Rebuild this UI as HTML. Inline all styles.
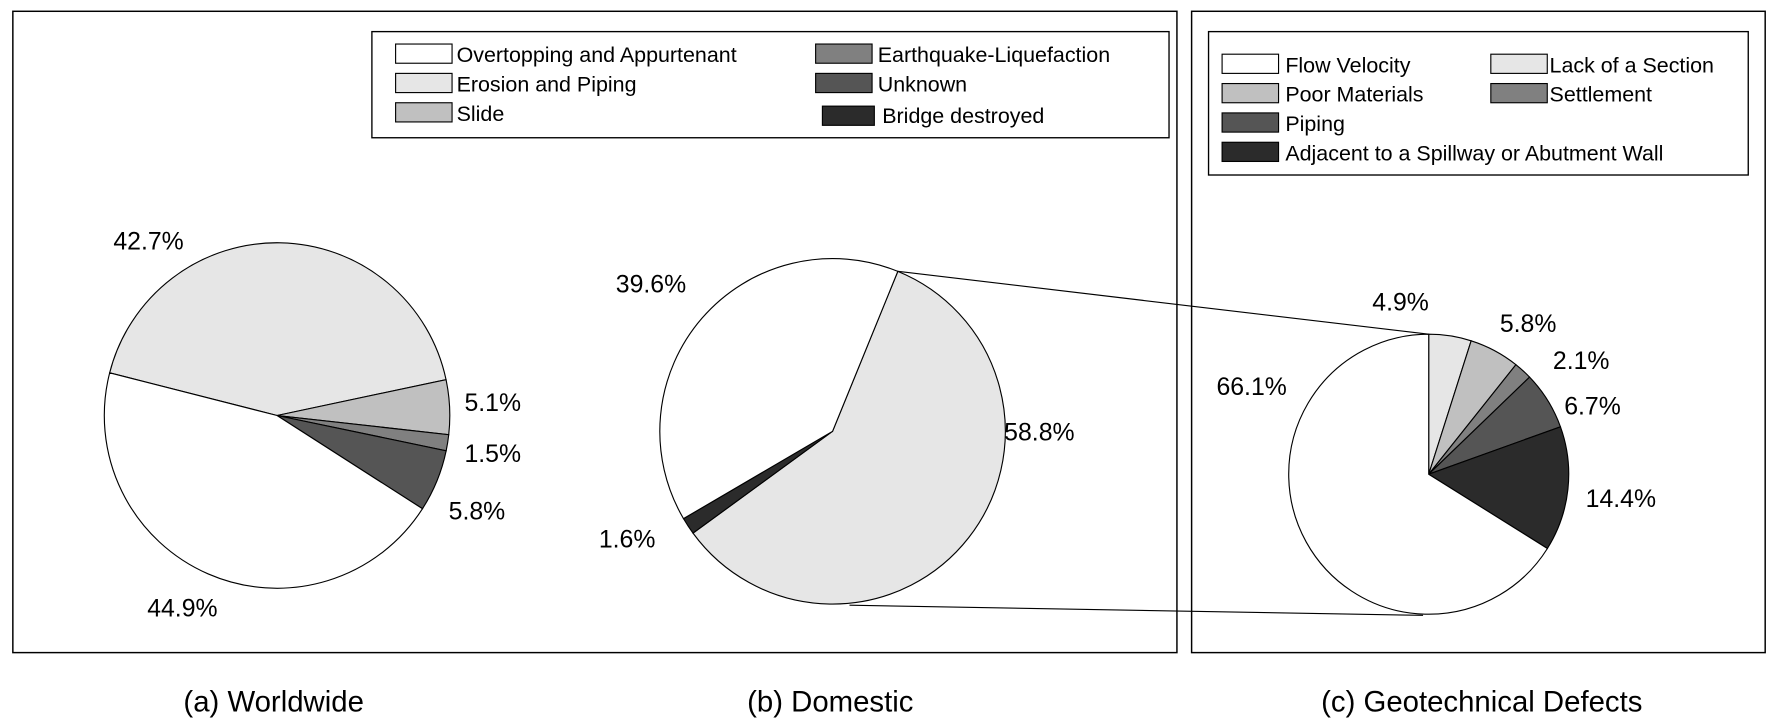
<!DOCTYPE html>
<html><head><meta charset="utf-8"><style>
html,body{margin:0;padding:0;background:#fff;}
svg{display:block;font-family:"Liberation Sans",sans-serif;}
</style></head><body>
<svg id="chart" width="1769" height="726" viewBox="0 0 1566 643">
<rect x="11" y="10" width="1031" height="568" fill="none" stroke="#000" stroke-width="1.3"/>
<rect x="1055" y="10" width="508" height="568" fill="none" stroke="#000" stroke-width="1.3"/>
<g>
<rect x="329" y="28" width="706" height="94" fill="#fff" stroke="#000" stroke-width="1.2"/>
<rect x="350" y="39" width="50" height="17" fill="#fff" stroke="#000"/><text x="404" y="55" font-size="19">Overtopping and Appurtenant</text>
<rect x="350" y="65" width="50" height="17" fill="#e6e6e6" stroke="#000"/><text x="404" y="81" font-size="19">Erosion and Piping</text>
<rect x="350" y="91" width="50" height="17" fill="#c0c0c0" stroke="#000"/><text x="404" y="107" font-size="19">Slide</text>
<rect x="722" y="39" width="50" height="17" fill="#808080" stroke="#000"/><text x="777" y="55" font-size="19">Earthquake-Liquefaction</text>
<rect x="722" y="65" width="50" height="17" fill="#555" stroke="#000"/><text x="777" y="81" font-size="19">Unknown</text>
<rect x="728" y="94" width="46" height="17" fill="#2b2b2b" stroke="#000"/><text x="781" y="109" font-size="19">Bridge destroyed</text>
</g>
<g>
<rect x="1070" y="28" width="478" height="127" fill="#fff" stroke="#000" stroke-width="1.2"/>
<rect x="1082" y="48" width="50" height="17" fill="#fff" stroke="#000"/><text x="1138" y="64" font-size="19">Flow Velocity</text>
<rect x="1082" y="74" width="50" height="17" fill="#c0c0c0" stroke="#000"/><text x="1138" y="90" font-size="19">Poor Materials</text>
<rect x="1082" y="100" width="50" height="17" fill="#555" stroke="#000"/><text x="1138" y="116" font-size="19">Piping</text>
<rect x="1082" y="126" width="50" height="17" fill="#2b2b2b" stroke="#000"/><text x="1138" y="142" font-size="19">Adjacent to a Spillway or Abutment Wall</text>
<rect x="1320" y="48" width="50" height="17" fill="#e6e6e6" stroke="#000"/><text x="1372" y="64" font-size="19">Lack of a Section</text>
<rect x="1320" y="74" width="50" height="17" fill="#808080" stroke="#000"/><text x="1372" y="90" font-size="19">Settlement</text>
</g>
<g id="pies"></g>
<text x="242" y="630" font-size="26" text-anchor="middle">(a) Worldwide</text>
<text x="735" y="630" font-size="26" text-anchor="middle">(b) Domestic</text>
<text x="1312" y="630" font-size="26" text-anchor="middle">(c) Geotechnical Defects</text>
</svg>
<script>
// (a) Worldwide, clockwise from erosion
const aCats = ["Erosion and Piping","Slide","Earthquake-Liquefaction","Unknown","Overtopping and Appurtenant"];
const aVals = [42.7,5.1,1.5,5.8,44.9];
// (b) Domestic
const bCats = ["Erosion and Piping","Bridge destroyed","Overtopping and Appurtenant"];
const bVals = [58.8,1.6,39.6];
// (c) Geotechnical defects
const cCats = ["Lack of a Section","Poor Materials","Settlement","Piping","Adjacent to a Spillway or Abutment Wall","Flow Velocity"];
const cVals = [4.9,5.8,2.1,6.7,14.4,66.1];

const NS="http://www.w3.org/2000/svg";
const g=document.getElementById('pies');
const fills={"Overtopping and Appurtenant":"#fff","Erosion and Piping":"#e6e6e6","Slide":"#c0c0c0","Earthquake-Liquefaction":"#808080","Unknown":"#555","Bridge destroyed":"#2b2b2b",
"Flow Velocity":"#fff","Lack of a Section":"#e6e6e6","Poor Materials":"#c0c0c0","Settlement":"#808080","Piping":"#555","Adjacent to a Spillway or Abutment Wall":"#2b2b2b"};
function pt(cx,cy,r,a){const t=a*Math.PI/180;return [cx+r*Math.cos(t),cy+r*Math.sin(t)];}
function drawPie(id,cats,vals,cx,cy,r,start,labels){
  const tot=vals.reduce((s,v)=>s+v,0);let a=start;const ends=[];
  cats.forEach((c,i)=>{
    const sw=vals[i]/tot*360;const p1=pt(cx,cy,r,a),p2=pt(cx,cy,r,a+sw);
    const p=document.createElementNS(NS,'path');
    p.setAttribute('d',`M${cx},${cy}L${p1[0]},${p1[1]}A${r},${r} 0 ${sw>180?1:0} 1 ${p2[0]},${p2[1]}Z`);
    p.setAttribute('fill',fills[c]);p.setAttribute('stroke','#000');p.setAttribute('stroke-width','1');
    
    
    g.appendChild(p);
    const t=document.createElementNS(NS,'text');
    t.setAttribute('x',labels[i][0]);t.setAttribute('y',labels[i][1]);t.setAttribute('font-size','22');
    t.textContent=vals[i].toFixed(1)+'%';
    
    
    g.appendChild(t);
    ends.push(a);a+=sw;
  });
  return ends;
}
drawPie('pie-a',aCats,aVals,245,368,153,194.3,[[100,221],[411,364],[411,409],[397,460],[130,546]]);
const bEnds=drawPie('pie-b',bCats,bVals,737,382,153,292.2,[[889,390],[530,485],[545,259]]);
drawPie('pie-c',cCats,cVals,1265,420,124,-90,[[1215,275],[1328,294],[1375,327],[1385,367],[1404,449],[1077,350]]);
function line(x1,y1,x2,y2,n){const l=document.createElementNS(NS,'line');
  l.setAttribute('x1',x1);l.setAttribute('y1',y1);l.setAttribute('x2',x2);l.setAttribute('y2',y2);l.setAttribute('stroke','#000');
  
  
  g.appendChild(l);}
const pb1=pt(737,382,153,bEnds[0]);line(pb1[0],pb1[1],1265,296,'connector-top');
line(752,536,1260,545,'connector-bottom');
</script>
</body></html>
